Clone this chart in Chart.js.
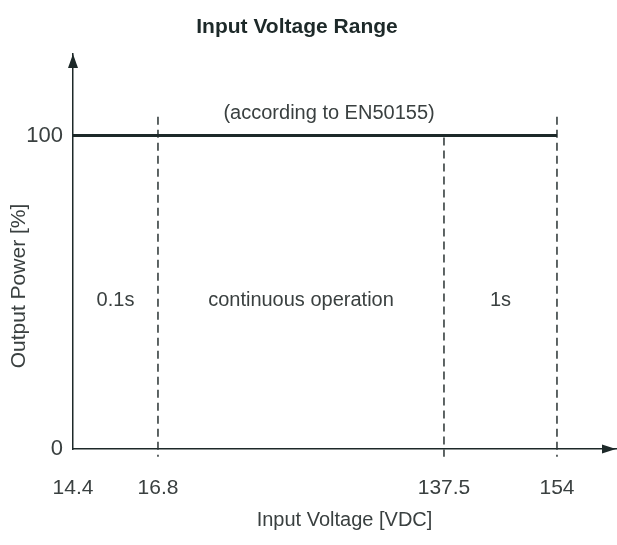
<!DOCTYPE html>
<html>
<head>
<meta charset="utf-8">
<script src="https://cdn.jsdelivr.net/npm/chart.js@4.4.1/dist/chart.umd.min.js"></script>
<style>
  html, body { margin: 0; padding: 0; background: #fff; }
  #wrap { width: 617px; height: 545px; }
</style>
</head>
<body>
<div id="wrap"><canvas id="grafico"></canvas></div>
<script>
// ---- dados ----
const voltageTicks = [14.4, 16.8, 137.5, 154];
const powerTicks = [0, 100];
const ratedVoltage = [14.4, 154];
const ratedPower = [100, 100];
const limitVoltages = [16.8, 137.5, 154];
const limitTop = [106, 99.4, 106];
const limitBottom = -2.5;
const regionBounds = [14.4, 16.8, 137.5, 154];
const regionLabels = ["0.1s", "continuous operation", "1s"];
const regionLabelPower = 47.5;
const noteText = "(according to EN50155)";
const noteVoltage = 89;
const noteWatts = 107;

const FONT = "'Liberation Sans Narrow', 'Liberation Sans', Arial, sans-serif";
const INK = "#1d2929";
const TXT = "#3a4040";

// eixo x quebrado (escala nao proporcional, como no desenho original)
const axisBreaks = [14.4, 16.8, 137.5, 154, 172];
const axisFractions = [0, 0.1565, 0.6832, 0.8913, 1];

class BrokenScale extends Chart.LinearScale {
  getPixelForValue(value) {
    if (value === null || isNaN(value)) return NaN;
    let i = 0;
    while (i < axisBreaks.length - 2 && value > axisBreaks[i + 1]) i++;
    const t = (value - axisBreaks[i]) / (axisBreaks[i + 1] - axisBreaks[i]);
    return this.getPixelForDecimal(axisFractions[i] + t * (axisFractions[i + 1] - axisFractions[i]));
  }
  getValueForPixel(pixel) {
    const d = this.getDecimalForPixel(pixel);
    let i = 0;
    while (i < axisFractions.length - 2 && d > axisFractions[i + 1]) i++;
    const t = (d - axisFractions[i]) / (axisFractions[i + 1] - axisFractions[i]);
    return axisBreaks[i] + t * (axisBreaks[i + 1] - axisBreaks[i]);
  }
}
BrokenScale.id = "broken";
BrokenScale.defaults = Chart.LinearScale.defaults;
Chart.register(BrokenScale);

const datasets = [{
  data: ratedVoltage.map((v, i) => ({ x: v, y: ratedPower[i] })),
  borderColor: INK,
  borderWidth: 3,
  pointRadius: 0
}];
limitVoltages.forEach((v, i) => {
  datasets.push({
    data: [{ x: v, y: limitTop[i] }, { x: v, y: limitBottom }],
    borderColor: "#2a3333",
    borderWidth: 1.5,
    borderDash: [8, 5],
    pointRadius: 0,
    clip: false
  });
});

// setas, textos das regioes e titulos
const decoracao = {
  id: "decoracao",
  afterDraw(chart) {
    const { ctx, chartArea: a, scales: { x, y } } = chart;
    ctx.save();
    ctx.fillStyle = INK;
    ctx.beginPath();
    ctx.moveTo(a.left, a.top);
    ctx.lineTo(a.left - 5, a.top + 14);
    ctx.lineTo(a.left + 5, a.top + 14);
    ctx.closePath();
    ctx.fill();
    ctx.beginPath();
    ctx.moveTo(a.right, a.bottom);
    ctx.lineTo(a.right - 14, a.bottom - 4.5);
    ctx.lineTo(a.right - 14, a.bottom + 4.5);
    ctx.closePath();
    ctx.fill();

    ctx.fillStyle = TXT;
    ctx.font = "20px " + FONT;
    ctx.textAlign = "center";
    ctx.textBaseline = "middle";
    regionLabels.forEach((t, i) => {
      const cx = (x.getPixelForValue(regionBounds[i]) + x.getPixelForValue(regionBounds[i + 1])) / 2;
      ctx.fillText(t, cx, y.getPixelForValue(regionLabelPower));
    });
    ctx.fillText(noteText, x.getPixelForValue(noteVoltage), y.getPixelForValue(noteWatts));

    ctx.save();
    ctx.translate(19, y.getPixelForValue(52));
    ctx.rotate(-Math.PI / 2);
    ctx.font = "21px " + FONT;
    ctx.fillText("Output Power [%]", 0, 0);
    ctx.restore();

    ctx.fillStyle = INK;
    ctx.font = "bold 21px " + FONT;
    ctx.fillText("Input Voltage Range", 297, 27);
    ctx.restore();
  }
};

new Chart(document.getElementById("grafico"), {
  type: "line",
  data: { datasets },
  options: {
    responsive: true,
    maintainAspectRatio: false,
    animation: false,
    layout: { padding: { top: 54, right: 1, left: 0, bottom: 0 } },
    plugins: { legend: { display: false }, tooltip: { enabled: false }, title: { display: false } },
    scales: {
      x: {
        type: "broken",
        min: 14.4,
        max: 172,
        grid: { display: false },
        border: { display: true, color: INK, width: 1.5 },
        afterBuildTicks: s => { s.ticks = voltageTicks.map(v => ({ value: v })); },
        afterFit: s => { s.height = 96; },
        ticks: {
          autoSkip: false,
          maxRotation: 0,
          padding: 19,
          color: TXT,
          font: { family: FONT, size: 21 },
          callback: v => String(v)
        },
        title: {
          display: true,
          text: "Input Voltage [VDC]",
          color: TXT,
          font: { family: FONT, size: 20 },
          padding: { top: 8, bottom: 13 }
        }
      },
      y: {
        min: 0,
        max: 126,
        grid: { display: false },
        border: { display: true, color: INK, width: 1.5 },
        afterBuildTicks: s => { s.ticks = powerTicks.map(v => ({ value: v })); },
        afterFit: s => { s.width = 73; },
        ticks: {
          padding: 2,
          color: TXT,
          font: { family: FONT, size: 22 },
          callback: v => String(v)
        }
      }
    }
  },
  plugins: [decoracao]
});
</script>
</body>
</html>
